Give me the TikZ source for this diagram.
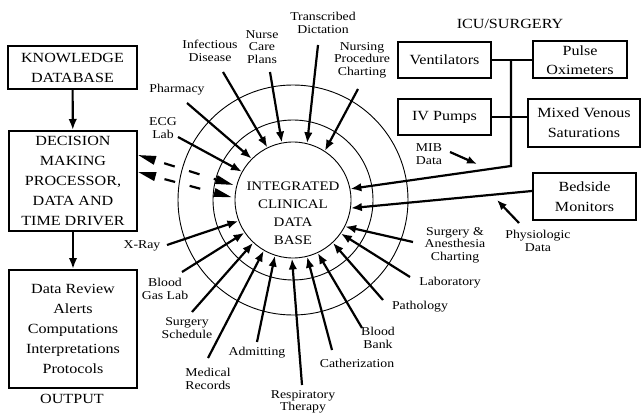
\documentclass[tikz,border=0pt]{standalone}
\usepackage{fontspec}
\setmainfont{Liberation Serif}[FakeStretch=1.15]
\usetikzlibrary{arrows.meta}
\newcommand\boxfont{\fontsize{14}{20}\selectfont}
\newcommand\lblfont{\fontsize{12}{12.5}\selectfont}
\newcommand\dbfont{\fontsize{13}{18}\selectfont}
\begin{document}
\begin{tikzpicture}[x=1pt,y=-1pt,
  box/.style={draw, line width=2pt, inner sep=0pt, align=center, font=\boxfont},
  lbl/.style={inner sep=0pt, align=center, font=\lblfont},
  ttl/.style={inner sep=0pt, align=center, font=\boxfont},
  arr/.style={line width=2.2pt, -{Latex[length=11pt,width=8.5pt]}},
  ring/.style={circle, draw, line width=0.9pt, inner sep=0pt},
  conn/.style={line width=2pt},
  dasharr/.style={line width=2.2pt, {Triangle[length=18pt,width=8.5pt]}-{Triangle[length=18pt,width=8.5pt]}, dash pattern=on 11pt off 15pt, dash phase=16pt}]
\useasboundingbox[fill=white] (0,0) rectangle (642,414);

% left column
\node[box, minimum width=129pt, minimum height=43pt] (kb) at (72.5,67.5) {KNOWLEDGE\\DATABASE};
\node[box, minimum width=128pt, minimum height=100pt] (dm) at (73,181) {DECISION\\MAKING\\PROCESSOR,\\DATA AND\\TIME DRIVER};
\node[box, minimum width=128pt, minimum height=118pt] (out) at (73,329) {Data Review\\Alerts\\Computations\\Interpretations\\Protocols};
\node[ttl] (outl) at (72,399) {OUTPUT};
\draw[arr] (kb) -- (dm);
\draw[arr] (dm) -- (out);

% rings and data base
\node[ring, minimum size=230pt] (r2) at (293,200) {};
\node[ring, minimum size=160pt] (r1) at (293,200) {};
\node[ring, minimum size=116pt] (db) at (293,200) {};
\node[inner sep=0pt, align=center, font=\dbfont] (dbt) at (293,213) {INTEGRATED\\CLINICAL\\DATA\\BASE};

% ICU / surgery
\node[ttl] (icu) at (510,24) {ICU/SURGERY};
\node[box, minimum width=93pt, minimum height=36pt] (vent) at (444.5,60) {Ventilators};
\node[box, minimum width=94pt, minimum height=37pt, font=\fontsize{14}{19}\selectfont] (pulse) at (580,60) {Pulse\\Oximeters};
\node[box, minimum width=93pt, minimum height=36pt] (iv) at (444.5,117) {IV Pumps};
\node[box, minimum width=112pt, minimum height=48pt] (mixed) at (584,123) {Mixed Venous\\Saturations};
\node[box, minimum width=103pt, minimum height=47pt] (bed) at (584.5,196.5) {Bedside\\Monitors};
\draw[conn] (vent.east) -- (pulse.west);
\draw[conn] (iv.east) -- (iv.east -| mixed.west);
\coordinate (jn) at (511,60);
\coordinate (bend) at (511,166);
\draw[arr] (jn) -- (bend) -- (db.11);
\coordinate (bo) at (533,191);
\draw[arr] (bed.west |- bo) -- (db.-8);

\node[lbl] (mib) at (429,154) {MIB\\Data};
\coordinate (mibs) at (450,152);
\coordinate (mibe) at (477,164);
\draw[arr, -{Latex[length=10pt,width=8pt]}] (mibs) -- (mibe);
\node[lbl] (phys) at (538,241) {Physiologic\\Data};
\coordinate (physs) at (519,223);
\coordinate (physe) at (497,200);
\draw[arr, -{Latex[length=10pt,width=8pt]}] (physs) -- (physe);

% dashed links to decision box
\coordinate (dl1) at (138,155);
\coordinate (dl2) at (138,172);
\draw[dasharr, shorten >=3pt] (dl1) -- (db.166);
\draw[dasharr, shorten >=3pt] (dl2) -- (db.178);

% source labels
\node[lbl] (linf) at (210,51) {Infectious\\Disease};
\node[lbl] (lncp) at (262,47) {Nurse\\Care\\Plans};
\node[lbl] (ltd) at (323,23) {Transcribed\\Dictation};
\node[lbl] (lnpc) at (362,60) {Nursing\\Procedure\\Charting};
\node[lbl] (lph) at (177,90) {Pharmacy};
\node[lbl] (lecg) at (163,128) {ECG\\Lab};
\node[lbl] (lxr) at (142,246) {X-Ray};
\node[lbl] (lbgl) at (165,289) {Blood\\Gas Lab};
\node[lbl] (lss) at (187,328) {Surgery\\Schedule};
\node[lbl] (lmr) at (208,379) {Medical\\Records};
\node[lbl] (ladm) at (257,353) {Admitting};
\node[lbl] (lrt) at (303,402) {Respiratory\\Therapy};
\node[lbl] (lcat) at (357,363) {Catherization};
\node[lbl] (lbb) at (378,338) {Blood\\Bank};
\node[lbl] (lpath) at (420,307) {Pathology};
\node[lbl] (llab) at (450,283) {Laboratory};
\node[lbl] (lsac) at (455,245) {Surgery \&\\Anesthesia\\Charting};

% radial arrows into the data base
\foreach \n/\x/\y/\a in {inf/223/72/116, ncp/270/72/101, td/318/45/76, npc/358/89/57,
  ph/187/103/135, ecg/178/137/151, xr/167/245/201, bgl/182/272/214, ss/192/312/227,
  mr/208/358/240, adm/257/342/252, rt/302/385/269, cat/332/350/284, bb/362/328/295,
  path/383/300/313, lab/410/277/325, sac/413/242/333}
{
  \coordinate (s\n) at (\x,\y);
  \draw[arr] (s\n) -- (db.\a);
}
\end{tikzpicture}
\end{document}
